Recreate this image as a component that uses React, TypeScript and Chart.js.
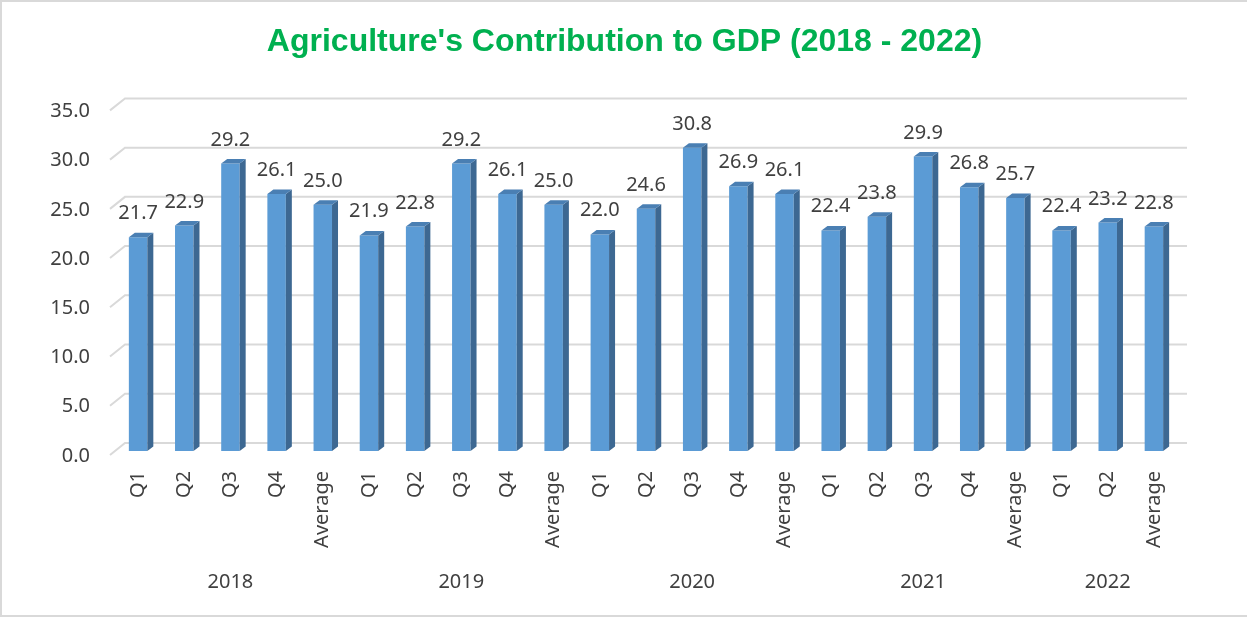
import React, { useEffect, useRef } from 'react';
import { Chart, registerables } from 'chart.js';

Chart.register(...registerables);

// ---- data ----
const periodLabels = [
  'Q1', 'Q2', 'Q3', 'Q4', 'Average',
  'Q1', 'Q2', 'Q3', 'Q4', 'Average',
  'Q1', 'Q2', 'Q3', 'Q4', 'Average',
  'Q1', 'Q2', 'Q3', 'Q4', 'Average',
  'Q1', 'Q2', 'Average',
];
const years = ['2018', '2019', '2020', '2021', '2022'];
const groupSizes = [5, 5, 5, 5, 3];

const values2018 = [21.7, 22.9, 29.2, 26.1, 25.0];
const values2019 = [21.9, 22.8, 29.2, 26.1, 25.0];
const values2020 = [22.0, 24.6, 30.8, 26.9, 26.1];
const values2021 = [22.4, 23.8, 29.9, 26.8, 25.7];
const values2022 = [22.4, 23.2, 22.8];

const yMin = 0;
const yMax = 35;
const yStep = 5;

const TITLE = "Agriculture's Contribution to GDP (2018 - 2022)";

// ---- styles ----
const FONT = "'Noto Sans', 'DejaVu Sans', sans-serif";
const TEXT_COLOR = '#404040';
const FRONT = '#5b9bd5';
const SIDE = '#3d6892';
const TOP = '#4a7fb3';
const GRID = '#d9d9d9';
const DX = 6;
const DY = 4.5;

const allValues = [...values2018, ...values2019, ...values2020, ...values2021, ...values2022];

// year label shown under the middle bar of each group
const yearAt: string[] = [];
groupSizes.forEach((size, g) => {
  for (let k = 0; k < size; k++) yearAt.push(k === Math.floor(size / 2) ? years[g] : '');
});

const threeDPlugin = {
  id: 'threeD',
  beforeDatasetsDraw(chart: any) {
    const { ctx, chartArea, scales } = chart;
    const y = scales.y;
    ctx.save();
    ctx.strokeStyle = GRID;
    ctx.lineWidth = 2;
    y.ticks.forEach((t: any) => {
      const py = y.getPixelForValue(t.value);
      ctx.beginPath();
      ctx.moveTo(chartArea.left - 5, py + 4);
      ctx.lineTo(chartArea.left + 10, py - 8);
      ctx.lineTo(chartArea.right + 10, py - 8);
      ctx.stroke();
    });
    ctx.restore();
  },
  afterDatasetsDraw(chart: any) {
    const { ctx } = chart;
    const meta = chart.getDatasetMeta(0);
    const data = chart.data.datasets[0].data;
    ctx.save();
    meta.data.forEach((bar: any, i: number) => {
      const { x, y, base, width } = bar.getProps(['x', 'y', 'base', 'width'], true);
      const l = x - width / 2;
      const r = x + width / 2;
      // side face
      ctx.fillStyle = SIDE;
      ctx.beginPath();
      ctx.moveTo(r, y);
      ctx.lineTo(r + DX, y - DY);
      ctx.lineTo(r + DX, base - DY);
      ctx.lineTo(r, base);
      ctx.closePath();
      ctx.fill();
      // top face
      ctx.fillStyle = TOP;
      ctx.beginPath();
      ctx.moveTo(l, y);
      ctx.lineTo(l + DX, y - DY);
      ctx.lineTo(r + DX, y - DY);
      ctx.lineTo(r, y);
      ctx.closePath();
      ctx.fill();
      // value label
      ctx.fillStyle = TEXT_COLOR;
      ctx.font = `20px ${FONT}`;
      ctx.textAlign = 'center';
      ctx.textBaseline = 'alphabetic';
      ctx.fillText(Number(data[i]).toFixed(1), x, y - 18);
    });
    ctx.restore();
  },
};

export default function App() {
  const canvasRef = useRef<HTMLCanvasElement | null>(null);

  useEffect(() => {
    if (!canvasRef.current) return;
    const chart = new Chart(canvasRef.current, {
      type: 'bar',
      data: {
        labels: periodLabels,
        datasets: [
          {
            data: allValues,
            backgroundColor: FRONT,
            borderWidth: 0,
            barPercentage: 0.4,
            categoryPercentage: 1,
          },
        ],
      },
      options: {
        responsive: false,
        animation: false,
        maintainAspectRatio: false,
        layout: { padding: { left: 0, right: 0, top: 0, bottom: 0 } },
        plugins: {
          legend: { display: false },
          tooltip: { enabled: false },
          title: {
            display: true,
            text: TITLE,
            color: '#00b050',
            font: { family: "'Liberation Sans', Arial, sans-serif", size: 32, weight: 'bold' },
            padding: { top: 21, bottom: 45 },
          },
        },
        scales: {
          y: {
            min: yMin,
            max: yMax,
            grid: { display: false, drawTicks: false },
            border: { display: false },
            ticks: {
              stepSize: yStep,
              padding: 25,
              labelOffset: 5,
              color: TEXT_COLOR,
              font: { family: FONT, size: 20 },
              callback: (v: any) => Number(v).toFixed(1),
            },
            afterFit: (s: any) => {
              s.width = 113;
            },
          },
          yRight: {
            type: 'linear',
            position: 'right',
            display: true,
            grid: { display: false, drawTicks: false },
            border: { display: false },
            ticks: { display: false },
            afterFit: (s: any) => {
              s.width = 70;
            },
          },
          x: {
            weight: 0,
            grid: { display: false, drawTicks: false },
            border: { display: false },
            ticks: {
              autoSkip: false,
              maxRotation: 90,
              minRotation: 90,
              padding: 20,
              color: TEXT_COLOR,
              font: { family: FONT, size: 20 },
            },
            afterFit: (s: any) => {
              s.height = 100;
            },
          },
          x2: {
            type: 'category',
            position: 'bottom',
            weight: 1,
            grid: { display: false, drawTicks: false },
            border: { display: false },
            ticks: {
              autoSkip: false,
              maxRotation: 0,
              minRotation: 0,
              padding: 19,
              color: TEXT_COLOR,
              font: { family: FONT, size: 20 },
              callback: (_v: any, i: number) => yearAt[i],
            },
            afterFit: (s: any) => {
              s.height = 64;
            },
          },
        },
      } as any,
      plugins: [threeDPlugin],
    });
    return () => chart.destroy();
  }, []);

  return (
    <div
      style={{
        position: 'absolute',
        left: 0,
        top: 0,
        width: 1247,
        height: 617,
        boxSizing: 'border-box',
        borderTop: '2px solid #d9d9d9',
        borderLeft: '2px solid #d9d9d9',
        borderBottom: '2px solid #d9d9d9',
        background: '#ffffff',
      }}
    >
      <canvas ref={canvasRef} width={1245} height={613} style={{ display: 'block' }} />
    </div>
  );
}
